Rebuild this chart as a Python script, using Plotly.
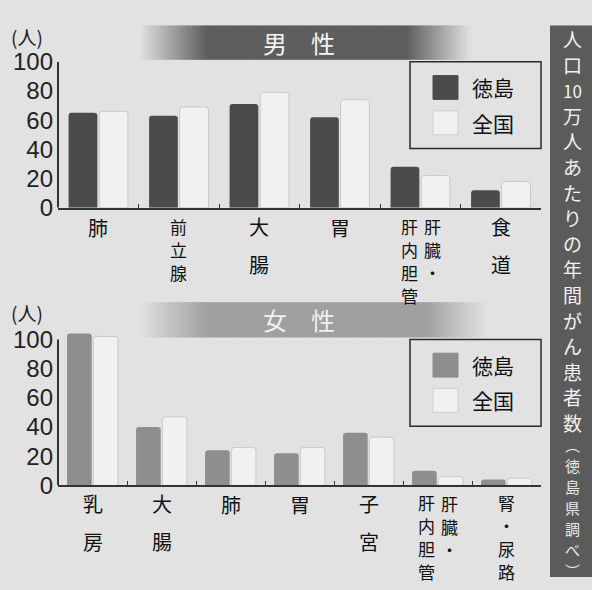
import plotly.graph_objects as go

# ---------------- data ----------------
series_names = ["徳島", "全国"]
male_categories = ["肺", "前立腺", "大腸", "胃", "肝臓・肝内胆管", "食道"]
male_tokushima = [65, 63, 71, 62, 28, 12]
male_zenkoku = [66, 69, 79, 74, 22, 18]
female_categories = ["乳房", "大腸", "肺", "胃", "子宮", "肝臓・肝内胆管", "腎・尿路"]
female_tokushima = [104, 40, 24, 22, 36, 10, 4]
female_zenkoku = [102, 47, 26, 26, 33, 6, 5]
y_tick_values = [0, 20, 40, 60, 80, 100]
unit_label = "(人)"
panel_titles = ["男　性", "女　性"]
side_title_main = ["人", "口", "10", "万", "人", "あ", "た", "り", "の", "年", "間", "が", "ん", "患", "者", "数"]
side_title_note = ["︵", "徳", "島", "県", "調", "べ", "︶"]

# ---------------- layout helpers ----------------
W, H = 592, 590
BG = "#e2e2e2"
def px(x):
    return x / W
def py(y):
    return 1 - y / H

JP = "Noto Sans CJK JP"
NUM = "Liberation Sans"
LINE = 1.3  # plotly line spacing in em

def vstack(tokens, step, size):
    """vertical text: one token per line, line step in px, glyph size in px"""
    sizes = size if isinstance(size, list) else [size] * len(tokens)
    html = "<br>".join(f"<span style='font-size:{s}px'>{t}</span>" for t, s in zip(tokens, sizes))
    return html, step / LINE

fig = go.Figure()

fig.add_trace(go.Bar(x=male_categories, y=male_tokushima, name=series_names[0],
                     marker=dict(color="#4b4b4b", line=dict(width=0)),
                     xaxis="x", yaxis="y", showlegend=False))
fig.add_trace(go.Bar(x=male_categories, y=male_zenkoku, name=series_names[1],
                     marker=dict(color="#f1f1f1", line=dict(color="#c9c9c9", width=1)),
                     xaxis="x", yaxis="y", showlegend=False))
fig.add_trace(go.Bar(x=female_categories, y=female_tokushima, name=series_names[0],
                     marker=dict(color="#8e8e8e", line=dict(width=0)),
                     xaxis="x2", yaxis="y2", showlegend=False))
fig.add_trace(go.Bar(x=female_categories, y=female_zenkoku, name=series_names[1],
                     marker=dict(color="#f1f1f1", line=dict(color="#c9c9c9", width=1)),
                     xaxis="x2", yaxis="y2", showlegend=False))

x_dom = [px(58), px(541)]
top_range = [0, 100]
bot_range = [0, 106]
top_dom = [py(203), py(50)]
bot_dom = [py(494), py(494 - 1.53 * bot_range[1])]

axis_common = dict(showgrid=False, zeroline=False)
fig.update_layout(
    width=W, height=H,
    margin=dict(l=0, r=0, t=0, b=0),
    paper_bgcolor=BG, plot_bgcolor=BG,
    barmode="group", bargap=0.24, bargroupgap=0.06, barcornerradius=3,
    xaxis=dict(domain=x_dom, anchor="y", showticklabels=False, showline=True,
               linecolor="#333", linewidth=2, ticks="inside", ticklen=4,
               tickcolor="#333", tickson="boundaries", **axis_common),
    yaxis=dict(domain=top_dom, anchor="x", range=top_range, tickvals=y_tick_values,
               tickfont=dict(family=NUM, size=24, color="#222"), ticks="",
               ticklabelstandoff=4, showline=False, **axis_common),
    xaxis2=dict(domain=x_dom, anchor="y2", showticklabels=False, showline=True,
                linecolor="#333", linewidth=2, ticks="inside", ticklen=4,
                tickcolor="#333", tickson="boundaries", **axis_common),
    yaxis2=dict(domain=bot_dom, anchor="x2", range=bot_range, tickvals=y_tick_values,
                tickfont=dict(family=NUM, size=24, color="#222"), ticks="",
                ticklabelstandoff=4, showline=False, **axis_common),
)

shapes = []
annotations = []

# vertical axis lines (0..100)
for ya, xa in (("y", "x"), ("y2", "x2")):
    shapes.append(dict(type="line", xref=f"{xa} domain", yref=ya, x0=0, x1=0,
                       y0=0, y1=100, line=dict(color="#333", width=2)))

# unit labels
for yc in (24, 313):
    annotations.append(dict(text=unit_label, x=px(27), y=py(yc), xref="paper", yref="paper",
                            showarrow=False, font=dict(family=JP, size=19, color="#222"),
                            xanchor="center", yanchor="middle"))

# gradient title bands
def band(y0, y1, dark, x_in0, x_in1, x_out0, x_out1, text, text_color):
    bg = 0xe2
    steps = 3
    x = x_in0
    while x < x_out1:
        if x < x_in1:
            t = (x - x_in0) / (x_in1 - x_in0)
        elif x < x_out0:
            t = 1.0
        else:
            t = 1 - (x - x_out0) / (x_out1 - x_out0)
        v = int(round(bg + (dark - bg) * t))
        col = f"rgb({v},{v},{v})"
        shapes.append(dict(type="rect", xref="paper", yref="paper",
                           x0=px(x), x1=px(x + steps + 0.5), y0=py(y1), y1=py(y0),
                           fillcolor=col, line=dict(width=0), layer="below"))
        x += steps
    annotations.append(dict(text=text, x=px(299), y=py((y0 + y1) / 2), xref="paper", yref="paper",
                            showarrow=False, font=dict(family=JP, size=24, color=text_color),
                            xanchor="center", yanchor="middle"))

band(12, 48, 0x5e, 138, 205, 405, 470, panel_titles[0], "#f4f4f4")
band(302, 339, 0xa0, 138, 205, 425, 485, panel_titles[1], "#f0f0f0")

# category labels (vertical columns)
def cat_labels(categories, xa, y_start, spread):
    for cat in categories:
        if "肝臓・" in cat:
            cols = [(cat.split("・")[1], -11), (cat.split("・")[0] + "・", 12)]
        else:
            cols = [(cat, 0)]
        for text, shift in cols:
            if len(text) <= 2:
                step, glyph = spread, 20
            else:
                step, glyph = 23, 17
            html, base = vstack(list(text), step, glyph)
            yc = y_start + (len(text) - 1) * step / 2
            annotations.append(dict(text=html, x=cat, y=py(yc), xref=xa,
                                    yref="paper", xshift=shift, showarrow=False,
                                    font=dict(family=JP, size=base, color="#111"),
                                    xanchor="center", yanchor="middle"))

cat_labels(male_categories, "x", 224, 38)
cat_labels(female_categories, "x2", 514, 38)

# legends (manual boxes)
def legend_box(top, dark_color):
    shapes.append(dict(type="rect", xref="paper", yref="paper", x0=px(410), x1=px(541),
                       y0=py(top + 91), y1=py(top), line=dict(color="#2a2a2a", width=1.5),
                       fillcolor=BG))
    cols = [dark_color, "#f1f1f1"]
    lines = [dark_color, "#cfcfcf"]
    for i, name in enumerate(series_names):
        yc = top + 27 + i * 37
        shapes.append(dict(type="rect", xref="paper", yref="paper", x0=px(433), x1=px(458),
                           y0=py(yc + 12.5), y1=py(yc - 12.5), fillcolor=cols[i],
                           line=dict(color=lines[i], width=1)))
        annotations.append(dict(text=name, x=px(493), y=py(yc), xref="paper", yref="paper",
                                showarrow=False, font=dict(family=JP, size=21, color="#111"),
                                xanchor="center", yanchor="middle"))

legend_box(50, "#4b4b4b")
legend_box(341, "#8e8e8e")

# right side title strip
shapes.append(dict(type="rect", xref="paper", yref="paper", x0=px(550), x1=1.0,
                   y0=0, y1=py(12), fillcolor="#5b5b5b", line=dict(width=0)))
main_step = 25.6
html, base = vstack(side_title_main, main_step, [19 if t != "10" else 17 for t in side_title_main])
yc = 35 + (len(side_title_main) - 1) * main_step / 2
annotations.append(dict(text=html, x=px(572), y=py(yc), xref="paper", yref="paper",
                        showarrow=False, font=dict(family=JP, size=base, color="#f2f2f2"),
                        xanchor="center", yanchor="middle"))
note_step = 21
html, base = vstack(side_title_note, note_step, 15)
yc = 454 + (len(side_title_note) - 1) * note_step / 2
annotations.append(dict(text=html, x=px(572), y=py(yc), xref="paper", yref="paper",
                        showarrow=False, font=dict(family=JP, size=base, color="#e8e8e8"),
                        xanchor="center", yanchor="middle"))

fig.update_layout(shapes=shapes, annotations=annotations)
fig.write_html("out.html", post_script="document.body.style.margin='0px';",
               config={"displayModeBar": False})
